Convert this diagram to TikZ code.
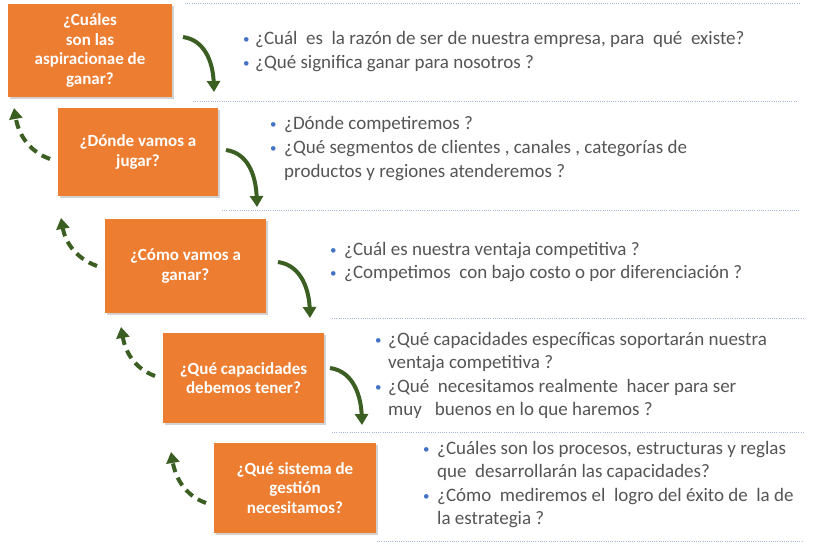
\documentclass[tikz,border=0pt]{standalone}
\usepackage{fontspec}
\setmainfont{Carlito}
\usetikzlibrary{arrows.meta,shadows}
\definecolor{boxorange}{HTML}{ED7D31}
\definecolor{txtgray}{HTML}{555555}
\definecolor{bulblue}{HTML}{4472C4}
\definecolor{arrgreen}{HTML}{3B5E22}
\definecolor{dotblue}{HTML}{A5B8DA}
\newcommand{\bul}{\textcolor{bulblue}{\fontsize{13}{13}\selectfont\raisebox{1pt}{•}}}
\begin{document}
\begin{tikzpicture}[x=1pt,y=1pt,
  qbox/.style={fill=boxorange, text=white, font=\fontsize{17}{19.5}\selectfont\bfseries,
    align=center, inner sep=0pt,
    drop shadow={opacity=0.35,shadow xshift=2pt,shadow yshift=-2pt}},
  qtxt/.style={text=txtgray, font=\fontsize{19}{23.6}\selectfont, anchor=base west, inner sep=0pt},
  sarrow/.style={draw=arrgreen, line width=4pt, -{Triangle[width=13pt,length=11pt]}},
  darrow/.style={sarrow, dash pattern=on 9pt off 6pt},
  sepline/.style={draw=dotblue, line width=1pt, dash pattern=on 1pt off 1.2pt}]
\fill[white] (0,0) rectangle (818,-545);
\useasboundingbox (0,0) rectangle (818,-545);

% separators
\draw[sepline] (185,-4) -- (800,-4);
\draw[sepline] (193,-102) -- (797,-102);
\draw[sepline] (222,-211) -- (800,-211);
\draw[sepline] (332,-318) -- (803,-318);
\draw[sepline] (332,-432) -- (803,-432);
\draw[sepline] (377,-541) -- (803,-541);

% boxes
\node[qbox, minimum width=164pt, minimum height=93pt] (b1) at (90,-50.5) {¿Cuáles\\son las\\aspiracionae de\\ganar?};
\node[qbox, minimum width=160pt, minimum height=88pt] (b2) at (138,-152) {¿Dónde vamos a\\jugar?};
\node[qbox, minimum width=161pt, minimum height=94pt] (b3) at (185.5,-266) {¿Cómo vamos a\\ganar?};
\node[qbox, minimum width=161pt, minimum height=90pt] (b4) at (243.5,-378) {¿Qué capacidades\\debemos tener?};
\node[qbox, minimum width=162pt, minimum height=90pt] (b5) at (295,-488) {¿Qué sistema de\\gestión\\necesitamos?};

% texts
\node[qtxt] (t1) at (243,-45) {\begin{tabular}[t]{@{}p{12pt}@{}l@{}}
\bul & ¿Cuál\ \ es\ \ la razón de ser de nuestra empresa, para\ \ qué\ \ existe?\\
\bul & ¿Qué significa ganar para nosotros ?\end{tabular}};
\node[qtxt] (t2) at (270,-130) {\begin{tabular}[t]{@{}p{14pt}@{}l@{}}
\bul & ¿Dónde competiremos ?\\
\bul & ¿Qué segmentos de clientes , canales , categorías de\\
 & productos y regiones atenderemos ?\end{tabular}};
\node[qtxt] (t3) at (330,-255) {\begin{tabular}[t]{@{}p{14pt}@{}l@{}}
\bul & ¿Cuál es nuestra ventaja competitiva ?\\
\bul & ¿Competimos\ \ con bajo costo o por diferenciación ?\end{tabular}};
\node[qtxt] (t4) at (375,-345) {\begin{tabular}[t]{@{}p{13pt}@{}l@{}}
\bul & ¿Qué capacidades específicas soportarán nuestra\\
 & ventaja competitiva ?\\
\bul & ¿Qué\ \ necesitamos realmente\ \ hacer para ser\\
 & muy\ \ \ buenos en lo que haremos ?\end{tabular}};
\node[qtxt] (t5) at (423,-454) {\begin{tabular}[t]{@{}p{14pt}@{}l@{}}
\bul & ¿Cuáles son los procesos, estructuras y reglas\\
 & que\ \ desarrollarán las capacidades?\\
\bul & ¿Cómo\ \ mediremos el\ \ logro del éxito de\ \ la de\\
 & la estrategia ?\end{tabular}};

% arrow end points
\coordinate (s1) at (183,-37);  \coordinate (e1) at (214,-92);
\coordinate (s2) at (226,-150); \coordinate (e2) at (257,-207);
\coordinate (s3) at (278,-262); \coordinate (e3) at (310,-318);
\coordinate (s4) at (330,-368); \coordinate (e4) at (362,-425);
\coordinate (d1s) at (50,-159);  \coordinate (d1e) at (14,-108);
\coordinate (d2s) at (97,-266);  \coordinate (d2e) at (61,-218);
\coordinate (d3s) at (155,-376); \coordinate (d3e) at (121,-327);
\coordinate (d4s) at (206,-503); \coordinate (d4e) at (171,-452);

\draw[sarrow] (s1) to[out=-8,in=92] (e1);
\draw[sarrow] (s2) to[out=-8,in=92] (e2);
\draw[sarrow] (s3) to[out=-8,in=92] (e3);
\draw[sarrow] (s4) to[out=-8,in=92] (e4);

\draw[darrow] (d1s) to[out=160,in=-80] (d1e);
\draw[darrow] (d2s) to[out=160,in=-80] (d2e);
\draw[darrow] (d3s) to[out=160,in=-80] (d3e);
\draw[darrow] (d4s) to[out=160,in=-80] (d4e);
\end{tikzpicture}
\end{document}
